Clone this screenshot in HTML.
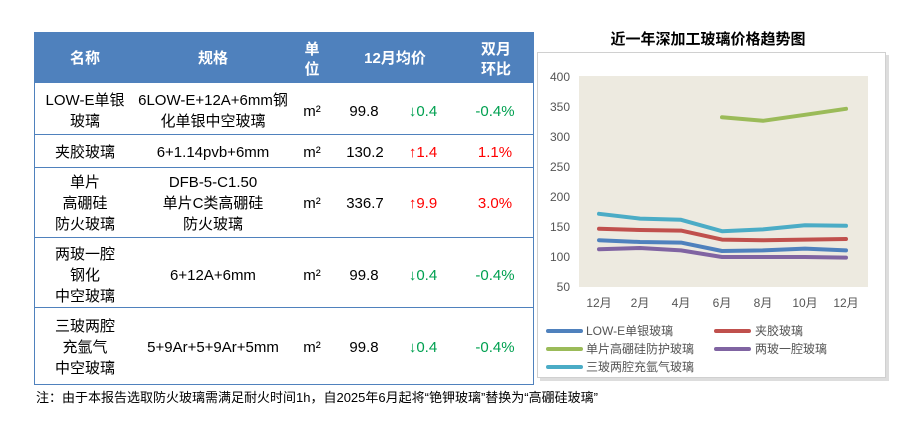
<!DOCTYPE html>
<html><head><meta charset="utf-8"><style>
body{margin:0;background:#fff;width:900px;height:428px;overflow:hidden}
</style></head><body>
<svg width="900" height="428" xmlns="http://www.w3.org/2000/svg" font-family="Liberation Sans, Noto Sans CJK SC, sans-serif">
<rect x="34" y="32" width="499" height="51" fill="#4f81bd"/>
<rect x="34.5" y="32.5" width="499" height="352" fill="none" stroke="#4f81bd"/>
<g stroke="#4f81bd"><line x1="34" y1="134.5" x2="533" y2="134.5"/><line x1="34" y1="167.5" x2="533" y2="167.5"/><line x1="34" y1="237.5" x2="533" y2="237.5"/><line x1="34" y1="307.5" x2="533" y2="307.5"/></g>
<g fill="#fff" font-weight="bold" font-size="15" text-anchor="middle">
<text x="85" y="63">名称</text><text x="213" y="63">规格</text>
<text x="312" y="54">单</text><text x="312" y="74">位</text>
<text x="395" y="63">12月均价</text>
<text x="496" y="54">双月</text><text x="496" y="74">环比</text></g>
<g font-size="15" text-anchor="middle" fill="#000">
<text x="85" y="105">LOW-E单银</text><text x="85" y="126">玻璃</text>
<text x="213" y="105">6LOW-E+12A+6mm钢</text><text x="213" y="126">化单银中空玻璃</text>
<text x="312" y="116">m²</text><text x="364" y="116">99.8</text>
<text x="85" y="157">夹胶玻璃</text><text x="213" y="157">6+1.14pvb+6mm</text><text x="312" y="157">m²</text><text x="365" y="157">130.2</text>
<text x="85" y="187">单片</text><text x="85" y="208">高硼硅</text><text x="85" y="229">防火玻璃</text>
<text x="213" y="187">DFB-5-C1.50</text><text x="213" y="208">单片C类高硼硅</text><text x="213" y="229">防火玻璃</text>
<text x="312" y="208">m²</text><text x="365" y="208">336.7</text>
<text x="85" y="259">两玻一腔</text><text x="85" y="280">钢化</text><text x="85" y="301">中空玻璃</text>
<text x="213" y="280">6+12A+6mm</text><text x="312" y="280">m²</text><text x="364" y="280">99.8</text>
<text x="85" y="331">三玻两腔</text><text x="85" y="352">充氩气</text><text x="85" y="373">中空玻璃</text>
<text x="213" y="352">5+9Ar+5+9Ar+5mm</text><text x="312" y="352">m²</text><text x="364" y="352">99.8</text>
</g>
<g font-size="15" text-anchor="middle">
<text x="423" y="116" fill="#00a050">↓0.4</text><text x="495" y="116" fill="#00a050">-0.4%</text>
<text x="423" y="157" fill="#f00">↑1.4</text><text x="495" y="157" fill="#f00">1.1%</text>
<text x="423" y="208" fill="#f00">↑9.9</text><text x="495" y="208" fill="#f00">3.0%</text>
<text x="423" y="280" fill="#00a050">↓0.4</text><text x="495" y="280" fill="#00a050">-0.4%</text>
<text x="423" y="352" fill="#00a050">↓0.4</text><text x="495" y="352" fill="#00a050">-0.4%</text>
</g>
<text x="36" y="402" font-size="13" fill="#000">注：由于本报告选取防火玻璃需满足耐火时间1h，自2025年6月起将“铯钾玻璃”替换为“高硼硅玻璃”</text>

<text x="708" y="44" font-size="15" font-weight="bold" text-anchor="middle">近一年深加工玻璃价格趋势图</text>
<rect x="540" y="55" width="349" height="326" fill="#bbb" opacity="0.5"/>
<rect x="537.5" y="52.5" width="348" height="325" fill="#fff" stroke="#d0d0d0"/>
<rect x="579" y="76" width="289" height="211" fill="#edeae0"/>
<g font-size="12" fill="#555" text-anchor="end">
<text x="570" y="81">400</text>
<text x="570" y="111">350</text>
<text x="570" y="141">300</text>
<text x="570" y="171">250</text>
<text x="570" y="201">200</text>
<text x="570" y="231">150</text>
<text x="570" y="261">100</text>
<text x="570" y="291">50</text>
</g>
<g font-size="12" fill="#555" text-anchor="middle">
<text x="599" y="307">12月</text>
<text x="640" y="307">2月</text>
<text x="681" y="307">4月</text>
<text x="722" y="307">6月</text>
<text x="763" y="307">8月</text>
<text x="805" y="307">10月</text>
<text x="846" y="307">12月</text>
</g>
<g fill="none" stroke-width="4" stroke-linecap="round" stroke-linejoin="round">
<polyline stroke="#4bacc6" points="599,213.8 640,218.6 681,219.8 722,231.2 763,229.4 805,225.2 846,225.8"/>
<polyline stroke="#c0504d" points="599,228.8 640,230 681,230.6 722,239.6 763,240.2 805,239.6 846,239"/>
<polyline stroke="#4f81bd" points="599,240.2 640,242 681,242.6 722,251 763,250.4 805,248.6 846,250.4"/>
<polyline stroke="#8064a2" points="599,249.2 640,248 681,250.4 722,257 763,257 805,257 846,257.6"/>
<polyline stroke="#9bbb59" points="722,117.2 763,120.8 805,114.8 846,108.8"/>
</g>
<g stroke-width="4" stroke-linecap="round">
<line x1="548" y1="331" x2="581" y2="331" stroke="#4f81bd"/>
<line x1="716" y1="331" x2="749" y2="331" stroke="#c0504d"/>
<line x1="548" y1="349" x2="581" y2="349" stroke="#9bbb59"/>
<line x1="716" y1="349" x2="749" y2="349" stroke="#8064a2"/>
<line x1="548" y1="367" x2="581" y2="367" stroke="#4bacc6"/>
</g>
<g font-size="12" fill="#555">
<text x="586" y="335">LOW-E单银玻璃</text>
<text x="755" y="335">夹胶玻璃</text>
<text x="586" y="353">单片高硼硅防护玻璃</text>
<text x="755" y="353">两玻一腔玻璃</text>
<text x="586" y="371">三玻两腔充氩气玻璃</text>
</g>
</svg>
</body></html>
